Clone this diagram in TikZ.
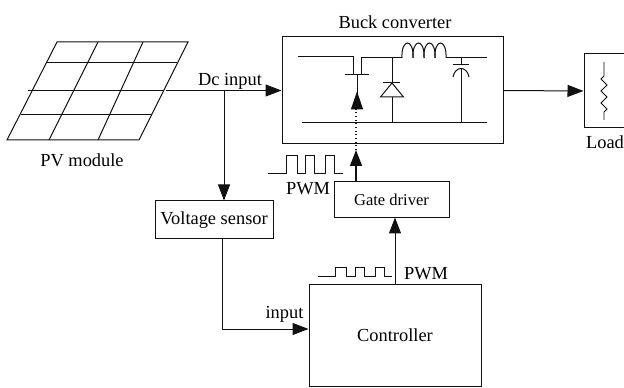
\documentclass[tikz,border=0pt]{standalone}
\usepackage{fontspec}
\setmainfont{Liberation Serif}
\usetikzlibrary{arrows.meta,positioning}
\definecolor{wireblack}{HTML}{111111}

\begin{document}
\begin{tikzpicture}[x=0.75pt,y=-0.75pt, every node/.style={font=\fontsize{13.8pt}{15pt}\selectfont,inner sep=0pt},
 box/.style={draw=wireblack,line width=0.75pt,align=center},
 wire/.style={draw=wireblack,line width=0.75pt},
 arr/.style={-{Triangle[length=12pt,width=9pt]},line width=0.75pt,draw=wireblack},
 gatearr/.style={-{Triangle[length=12pt,width=9pt]},line width=1.3pt,draw=wireblack}]
\useasboundingbox (0,0) rectangle (624,388);
% boxes
\node[box,minimum width=165.75pt,minimum height=80.25pt] (buck) at (392.5,90.5) {};
\node[box,minimum width=30pt,minimum height=55.5pt] (load) at (604,91) {};
\node[box,minimum width=88.5pt,minimum height=28.5pt] (sensor) at (214,220) {Voltage sensor};
\node[box,minimum width=86.25pt,minimum height=27pt,font=\fontsize{12.4pt}{14pt}\selectfont] (driver) at (391.5,200) {Gate driver};
\node[box,minimum width=129pt,minimum height=76.5pt] (controller) at (395,335) {Controller};
% labels
\node (bucklabel) at (395,22) {Buck converter};
\node (pvlabel) at (82,160) {PV module};
\node (loadlabel) at (605,142) {Load};
\node (dclabel) at (230,81) {Dc input};
\node (pwmtop) at (308,189) {PWM};
\node (pwmlow) at (426,274) {PWM};
\node (inputlabel) at (284.5,314) {input};
% PV module
\draw[wire] (57,42)--(188,42)--(139,140)--(7,140)--cycle;
\draw[wire] (46,63)--(177,63) (28,91)--(164,91) (21,115)--(152,115);
\draw[wire] (98,42)--(49,140) (143,42)--(98,140);
% connectors
\coordinate (pvout) at (166,90.5);
\coordinate (dcjoint) at (224,90.5);
\coordinate (sensorturn) at (222,329);
\coordinate (gatein) at (356,109);
\coordinate (gatetip) at (356,150);
\draw[arr] (pvout) -- (buck.west);
\draw[arr] (dcjoint) -- (dcjoint |- sensor.north);
\draw[arr] (sensor.south -| sensorturn) -- (sensorturn) -- (controller.west |- sensorturn);
\draw[arr] (controller.north -| driver.south) ++(3.5,0) -- ++(0,-66);
\draw[arr] (buck.east) -- (load.west);
\draw[gatearr] (driver.north -| gatetip) -- (gatetip);
\draw[wire,dotted,line width=1pt] (gatetip) -- (gatein);
% buck circuit
\draw[wire] (298,57)--(353,57)--(353,75) (361,75)--(361,58)--(402,58);
\draw[wire] (345,75)--(369,75) (357,75)--(357,95);
\draw[wire,fill=wireblack] (357,93)--(351.5,109)--(362.5,109)--cycle;
\foreach \cx in {402,413,424,435}
 \draw[wire] (\cx,58) .. controls (\cx-1,38) and (\cx+12,38) .. (\cx+11,58);
\draw[wire] (446,58)--(487,58) (302,123)--(487,123);
\draw[wire] (392,58)--(392,123) (383,83)--(400,83);
\draw[wire,fill=white] (392,83)--(380.5,97)--(403.5,97)--cycle;
\draw[wire] (461,58)--(461,64.5) (453,64.5)--(469,64.5) (461,69)--(461,123);
\draw[wire] (453,77) .. controls (454,71) and (458,68.5) .. (461,68.5) .. controls (464,68.5) and (468,71) .. (469,77);
% load resistor
\draw[wire,line width=0.6pt] (604,62)--(604,76)--(601,79)--(607,85)--(601,91)--(607,97)--(601,103)--(607,109)--(604,112)--(604,120);
% pwm waves
\draw[wire] (268,174)--(286,174)--(286,156)--(297,156)--(297,174)--(305,174)--(305,156)--(314,156)--(314,174)--(325,174)--(325,156)--(334,156)--(334,174)--(343,174);
\draw[wire] (318,276)--(335,276)--(335,267)--(346,267)--(346,276)--(355,276)--(355,267)--(364,267)--(364,276)--(375,276)--(375,267)--(384,267)--(384,276)--(392,276);
\end{tikzpicture}
\end{document}
